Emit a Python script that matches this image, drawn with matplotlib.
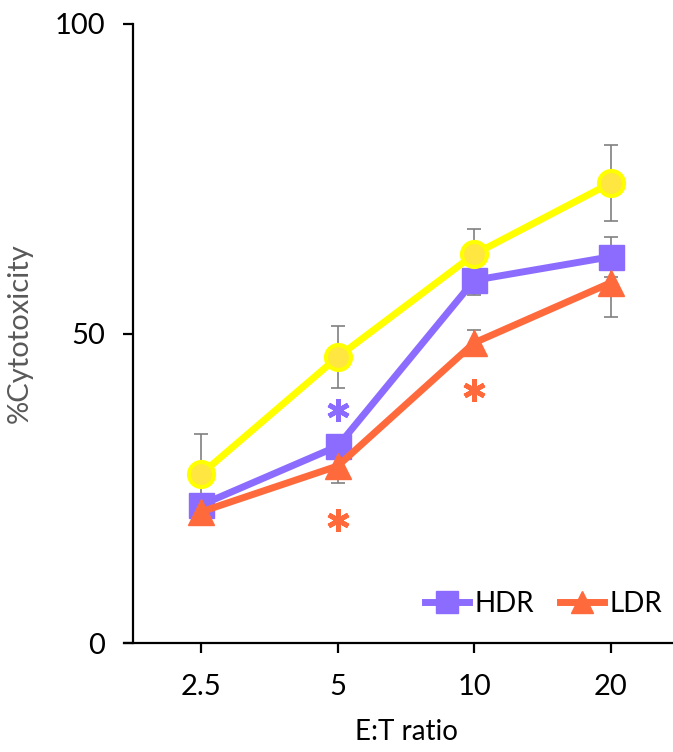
import matplotlib
matplotlib.use("Agg")
import matplotlib.pyplot as plt
import numpy as np

plt.rcParams["font.family"] = ["Lato", "DejaVu Sans"]

ratios = ["2.5", "5", "10", "20"]

ctrl_mean = [27.3, 46.2, 62.8, 74.3]
ctrl_err = [6.5, 5.0, 4.1, 6.2]
hdr_mean = [22.3, 31.8, 58.6, 62.4]
hdr_err = [1.0, 1.5, 2.4, 3.2]
ldr_mean = [21.2, 28.6, 48.5, 58.2]
ldr_err = [1.0, 2.7, 2.0, 5.6]

# significance stars: (x index, y value, colour key)
star_x = [1, 1, 2]
star_y = [37.6, 19.9, 40.9]
star_series = ["hdr", "ldr", "ldr"]

COLORS = {"ctrl": "#ffff00", "hdr": "#8c6cff", "ldr": "#ff6a3d"}
ERR_COLOR = "#808080"

fig = plt.figure(figsize=(6.73, 7.52), dpi=100)
ax = fig.add_axes([133 / 673, 109 / 752, 546 / 673, 619 / 752])

x = np.arange(len(ratios))

series = [
    ("hdr", hdr_mean, hdr_err, "s", "HDR"),
    ("ldr", ldr_mean, ldr_err, "^", "LDR"),
    ("ctrl", ctrl_mean, ctrl_err, "o", None),
]

handles = []
for i, (key, mean, err, marker, label) in enumerate(series):
    ax.errorbar(x, mean, yerr=err, fmt="none", ecolor=ERR_COLOR, elinewidth=1.2,
                capsize=5, capthick=1.2, zorder=1)
    face = "#ffe640" if key == "ctrl" else COLORS[key]
    (ln,) = ax.plot(x, mean, color=COLORS[key], lw=5, marker=marker,
                    markersize=18 if marker != "^" else 19,
                    markerfacecolor=face, markeredgecolor=COLORS[key],
                    markeredgewidth=3 if key == "ctrl" else 1,
                    zorder=3 + i, label=label)
    if label:
        handles.append(ln)

for sx, sy, key in zip(star_x, star_y, star_series):
    ax.plot(sx, sy, marker=(6, 2, 0), markersize=16, markeredgewidth=3.4,
            color=COLORS[key], linestyle="none", zorder=6)

ax.set_xlim(-0.5, 3.5)
ax.set_ylim(0, 100)
ax.set_xticks(x)
ax.set_xticklabels(ratios)
ax.set_yticks([0, 50, 100])

for side in ("top", "right"):
    ax.spines[side].set_visible(False)
for side in ("left", "bottom"):
    ax.spines[side].set_linewidth(1.6)
    ax.spines[side].set_color("#000000")
ax.spines["bottom"].set_bounds(-0.5 - 9 / 136.5, 3.5)
ax.spines["bottom"].set_clip_on(False)

ax.tick_params(axis="both", direction="out", length=7, width=1.6, labelsize=21,
               colors="#000000")
ax.tick_params(axis="y", pad=13)
ax.tick_params(axis="x", pad=15)

ax.set_ylabel("%Cytotoxicity", fontsize=21, color="#595959", labelpad=16)
ax.set_xlabel("E:T ratio", fontsize=20, color="#000000", labelpad=14)

ax.legend(handles=handles, loc="lower right", bbox_to_anchor=(1.0, 0.015),
          ncol=2, frameon=False, fontsize=20, handlelength=1.6, handletextpad=0.2,
          columnspacing=0.9, markerscale=0.85, borderaxespad=0.2)

fig.savefig("out.png", dpi=100, facecolor="white")
